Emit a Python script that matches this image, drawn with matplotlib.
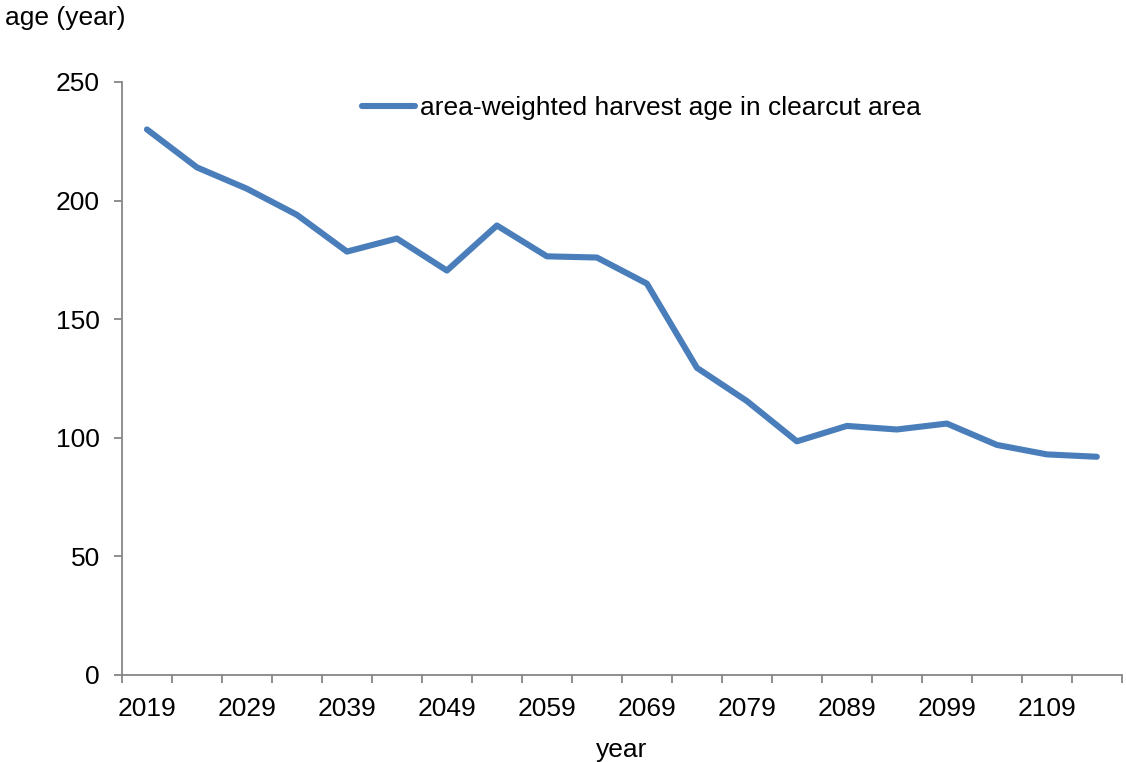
import matplotlib
matplotlib.use("Agg")
import matplotlib.pyplot as plt
from matplotlib.ticker import FixedLocator, NullFormatter

plt.rcParams['font.family'] = ['Liberation Sans', 'DejaVu Sans']

years = list(range(2019, 2115, 5))
harvest_age = [230, 214, 205, 194, 178.5, 184, 170.5, 189.5, 176.5, 176,
               165, 129.5, 115.5, 98.5, 105, 103.5, 106, 97, 93, 92]
series_label = "area-weighted harvest age in clearcut area"
y_ticks = [0, 50, 100, 150, 200, 250]

FS = 19

fig = plt.figure(figsize=(11.26, 7.62), dpi=100)
ax = fig.add_axes([0.1083, 0.1142, 0.888, 0.7782])

idx = list(range(len(years)))
ax.plot(idx, harvest_age, color='#4a7ebb', lw=4.4, solid_joinstyle='round',
        solid_capstyle='round', label=series_label)

axis_grey = '#868686'
ax.set_xlim(-0.5, len(years) - 0.5)
ax.set_ylim(0, 250)
ax.set_yticks(y_ticks)
ax.set_xticks(idx[::2])
ax.set_xticklabels([str(y) for y in years[::2]])
ax.xaxis.set_minor_locator(FixedLocator([i - 0.5 for i in range(len(years) + 1)]))
ax.xaxis.set_minor_formatter(NullFormatter())

ax.tick_params(axis='x', which='major', length=0, pad=16, labelsize=FS)
ax.tick_params(axis='x', which='minor', length=6, width=1.3, color=axis_grey, direction='out')
ax.tick_params(axis='y', length=6, width=1.3, color=axis_grey, pad=10, labelsize=FS)

for s in ['top', 'right']:
    ax.spines[s].set_visible(False)
for s in ['left', 'bottom']:
    ax.spines[s].set_color(axis_grey)
    ax.spines[s].set_linewidth(1.3)

ax.set_xlabel('year', fontsize=FS, labelpad=12)
fig.text(0.004, 0.976, 'age (year)', fontsize=FS, ha='left', va='center')

ax.legend(loc='center left', bbox_to_anchor=(0.24, 0.956), frameon=False,
          borderpad=0, borderaxespad=0, handlelength=2.0, handletextpad=0.2,
          fontsize=FS)

fig.savefig('out.png', dpi=100)
